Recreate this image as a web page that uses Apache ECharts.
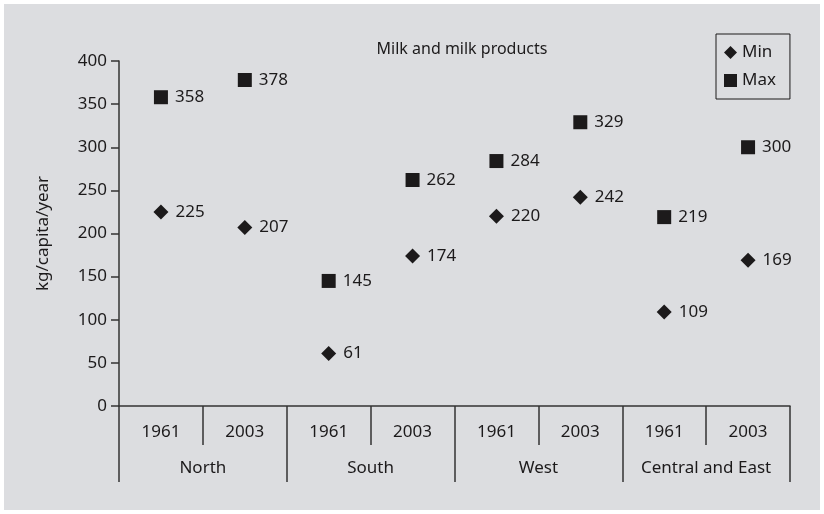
<!DOCTYPE html>
<html>
<head>
<meta charset="utf-8">
<style>
  html, body { margin: 0; padding: 0; background: #ffffff; }
  #chart { width: 824px; height: 514px; }
</style>
<script src="https://cdn.jsdelivr.net/npm/echarts@6/dist/echarts.min.js"></script>
</head>
<body>
<div id="chart"></div>
<script>
// Milk and milk products consumption, kg/capita/year
const years = ['1961', '2003', '1961', '2003', '1961', '2003', '1961', '2003'];
const regions = ['North', 'South', 'West', 'Central and East'];
const minValues = [225, 207, 61, 174, 220, 242, 109, 169];
const maxValues = [358, 378, 145, 262, 284, 329, 219, 300];
const yTicks = { min: 0, max: 400, step: 50 };

const ink = '#1c1a1b';
const axisInk = '#333333';
const font = '"Noto Sans", "Open Sans", sans-serif';
const panel = '#dcdde0';

const chart = echarts.init(document.getElementById('chart'), null, { renderer: 'canvas' });

const valueLabel = {
  show: true,
  position: 'right',
  distance: 7,
  color: ink,
  fontFamily: font,
  fontSize: 17
};

chart.setOption({
  backgroundColor: '#ffffff',
  animation: false,
  graphic: [{
    type: 'rect',
    z: -100,
    shape: { x: 4, y: 4, width: 816, height: 506 },
    style: { fill: panel }
  }],
  title: {
    text: 'Milk and milk products',
    left: 457,
    top: 36,
    textAlign: 'center',
    textStyle: { color: ink, fontFamily: font, fontSize: 16, fontWeight: 'normal' }
  },
  legend: {
    orient: 'vertical',
    left: 716,
    top: 34,
    width: 60,
    padding: [10, 14, 10, 8],
    itemGap: 11,
    itemWidth: 13,
    itemHeight: 13,
    borderColor: ink,
    borderWidth: 1,
    textStyle: { color: ink, fontFamily: font, fontSize: 17 },
    data: [
      { name: 'Min', icon: 'diamond' },
      { name: 'Max', icon: 'rect' }
    ]
  },
  grid: { left: 119, right: 34, top: 61, bottom: 108 },
  xAxis: [
    {
      type: 'category',
      data: years,
      position: 'bottom',
      boundaryGap: true,
      axisLine: { show: true, lineStyle: { color: axisInk, width: 1.5 } },
      axisTick: { show: true, length: 39, interval: 0, lineStyle: { color: axisInk, width: 1.5 } },
      axisLabel: { interval: 0, margin: 18, color: ink, fontFamily: font, fontSize: 17 },
      splitLine: { show: false }
    },
    {
      type: 'category',
      data: regions,
      position: 'bottom',
      offset: 0,
      boundaryGap: true,
      axisLine: { show: false },
      axisTick: { show: true, length: 76, interval: 0, lineStyle: { color: axisInk, width: 1.5 } },
      axisLabel: { interval: 0, margin: 54, color: ink, fontFamily: font, fontSize: 17 },
      splitLine: { show: false }
    }
  ],
  yAxis: {
    type: 'value',
    min: yTicks.min,
    max: yTicks.max,
    interval: yTicks.step,
    name: 'kg/capita/year',
    nameLocation: 'middle',
    nameGap: 67,
    nameTextStyle: { color: ink, fontFamily: font, fontSize: 17 },
    axisLine: { show: true, lineStyle: { color: axisInk, width: 1.5 } },
    axisTick: { show: true, length: 8, lineStyle: { color: axisInk, width: 1.5 } },
    axisLabel: { margin: 12, color: ink, fontFamily: font, fontSize: 17 },
    splitLine: { show: false }
  },
  series: [
    {
      name: 'Min',
      type: 'scatter',
      xAxisIndex: 0,
      symbol: 'diamond',
      symbolSize: 15,
      itemStyle: { color: ink, opacity: 1 },
      label: valueLabel,
      data: minValues
    },
    {
      name: 'Max',
      type: 'scatter',
      xAxisIndex: 0,
      symbol: 'rect',
      symbolSize: 14,
      itemStyle: { color: ink, opacity: 1 },
      label: valueLabel,
      data: maxValues
    }
  ]
});
</script>
</body>
</html>
